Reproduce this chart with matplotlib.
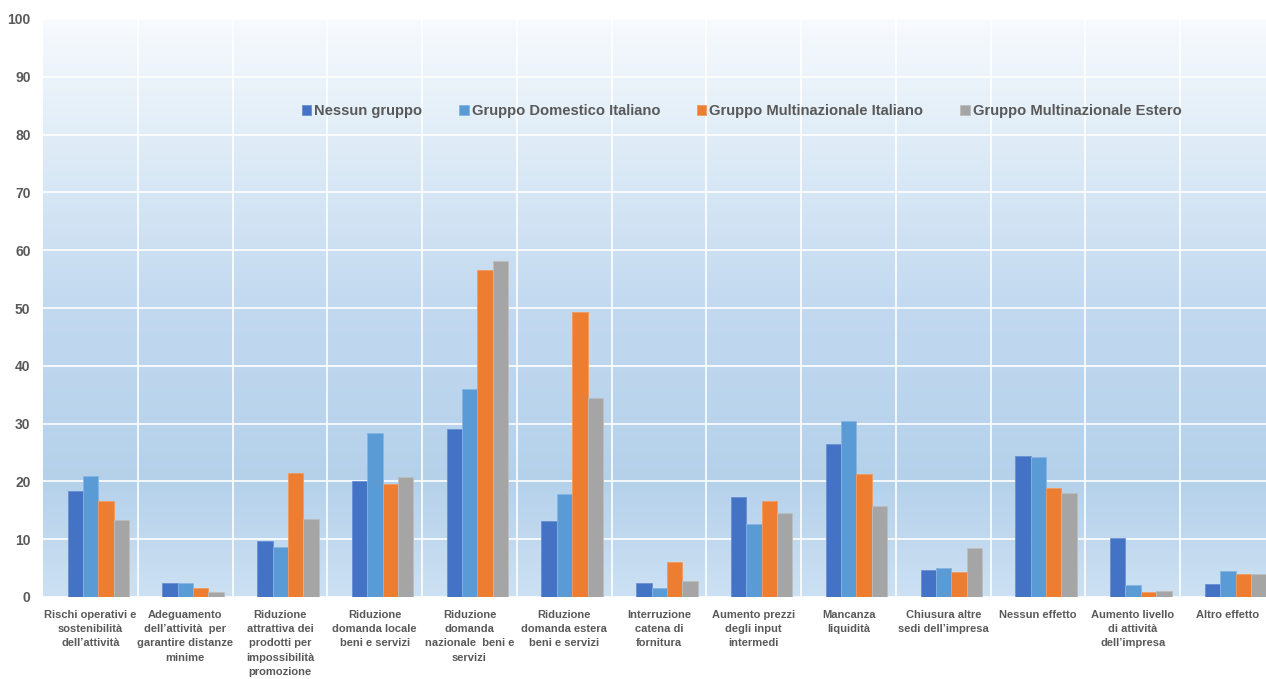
import matplotlib
matplotlib.use("Agg")
from matplotlib import pyplot as plt
from matplotlib import font_manager
import numpy as np

nomi_font = {f.name for f in font_manager.fontManager.ttflist}
narrow = 'Liberation Sans Narrow' in nomi_font
if narrow:
    plt.rcParams['font.family'] = ['Liberation Sans Narrow', 'DejaVu Sans']
    sz_cat, sz_leg, sz_y = 9.5, 12, 10.5
else:
    plt.rcParams['font.family'] = ['Liberation Sans', 'DejaVu Sans']
    sz_cat, sz_leg, sz_y = 8.0, 10.6, 10

categorie = [
    "Rischi operativi e\nsostenibilità\ndell\u2019attività",
    "Adeguamento\ndell\u2019attività  per\ngarantire distanze\nminime",
    "Riduzione\nattrattiva dei\nprodotti per\nimpossibilità\npromozione",
    "Riduzione\ndomanda locale\nbeni e servizi",
    "Riduzione\ndomanda\nnazionale  beni e\nservizi",
    "Riduzione\ndomanda estera\nbeni e servizi",
    "Interruzione\ncatena di\nfornitura",
    "Aumento prezzi\ndegli input\nintermedi",
    "Mancanza\nliquidità",
    "Chiusura altre\nsedi dell\u2019impresa",
    "Nessun effetto",
    "Aumento livello\ndi attività\ndell\u2019impresa",
    "Altro effetto",
]

serie = ["Nessun gruppo", "Gruppo Domestico Italiano",
         "Gruppo Multinazionale Italiano", "Gruppo Multinazionale Estero"]

nessun_gruppo = [18.3, 2.5, 9.7, 20.0, 29.1, 13.2, 2.4, 17.3, 26.4, 4.6, 24.4, 10.2, 2.3]
domestico_it = [20.9, 2.4, 8.7, 28.4, 36.0, 17.9, 1.6, 12.6, 30.5, 5.1, 24.3, 2.1, 4.5]
multinaz_it = [16.6, 1.5, 21.5, 19.5, 56.6, 49.3, 6.0, 16.6, 21.2, 4.3, 18.8, 0.8, 4.0]
multinaz_est = [13.4, 0.8, 13.5, 20.8, 58.2, 34.4, 2.8, 14.5, 15.8, 8.5, 18.0, 1.1, 3.9]

valori = [nessun_gruppo, domestico_it, multinaz_it, multinaz_est]
colori = ["#4472C4", "#5B9BD5", "#ED7D31", "#A5A5A5"]
bordi = ["#6a8fd3", "#85b5e3", "#f19a60", "#bdbdbd"]

W, H = 1266, 679
fig = plt.figure(figsize=(W / 100, H / 100), dpi=100)
ax = fig.add_axes([43 / W, 1 - 597 / H, 1232 / W, 578 / H])

n = len(categorie)
x = np.arange(n)
ax.set_xlim(-0.5, n - 0.5)
ax.set_ylim(0, 100)

# sfondo sfumato
stops_y = [0, 20, 50, 80, 100]
stops_c = [[0.80, 0.88, 0.95], [0.71, 0.82, 0.92], [0.76, 0.85, 0.94],
           [0.88, 0.93, 0.97], [0.97, 0.98, 0.995]]
yy = np.linspace(0, 100, 300)
img = np.stack([np.interp(yy, stops_y, [c[k] for c in stops_c]) for k in range(3)], axis=1)
img = np.repeat(img[:, None, :], 2, axis=1)
ax.imshow(img, origin='lower', extent=(-0.5, n - 0.5, 0, 100), aspect='auto', zorder=0)

for yv in range(0, 101, 10):
    ax.axhline(yv, color='white', lw=1.2, zorder=1)
for xv in np.arange(0.5, n - 0.5, 1):
    ax.axvline(xv, color='white', lw=1.2, zorder=1)

bw = 0.162
off = 0.084
for i, (vals, c, b) in enumerate(zip(valori, colori, bordi)):
    ax.bar(x + off + (i - 1.5) * bw, vals, width=bw, color=c, edgecolor=b,
           linewidth=0.6, label=serie[i], zorder=2)

for s in ax.spines.values():
    s.set_visible(False)
ax.set_yticks(range(0, 101, 10))
ax.tick_params(axis='y', length=0, pad=9, labelsize=sz_y, labelcolor='#595959')
for t in ax.get_yticklabels():
    t.set_fontweight('bold')
ax.set_xticks(x)
ax.set_xticklabels(categorie, fontsize=sz_cat, fontweight='bold', color='#595959',
                   linespacing=1.55)
ax.tick_params(axis='x', length=0, pad=9)

leg = ax.legend(loc='center', bbox_to_anchor=(0.567, 0.841), ncol=4, frameon=False,
                handlelength=0.65, handleheight=0.65, handletextpad=0.2,
                columnspacing=2.5, prop={'weight': 'bold', 'size': sz_leg})
for t in leg.get_texts():
    t.set_color('#595959')

plt.savefig('out.png', dpi=100)
